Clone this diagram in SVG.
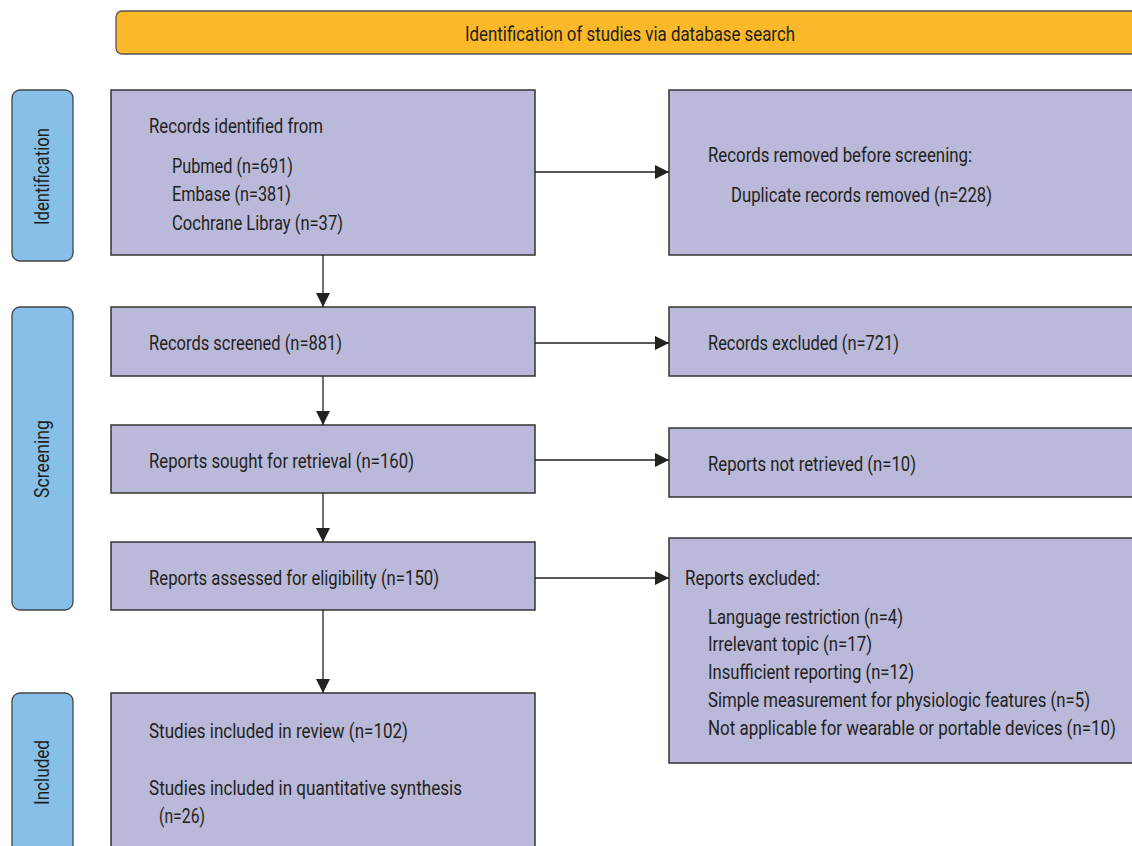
<svg xmlns="http://www.w3.org/2000/svg" width="1132" height="846" viewBox="0 0 1132 846">
<style>
.box{fill:#BAB9DA;stroke:#333;stroke-width:1.5}
.side{fill:#86BFE8;stroke:#444;stroke-width:1.3}
.hdr{fill:#FBB829;stroke:#555;stroke-width:1.3}
.t{font-family:Roboto,"Liberation Sans",sans-serif;font-size:19.5px;fill:#231F20}
.c{stroke:#222;stroke-width:1.3;fill:none}
</style>
<defs>
<marker id="ah" viewBox="0 0 10 10" refX="10" refY="5" markerWidth="14" markerHeight="14" markerUnits="userSpaceOnUse" orient="auto">
<path d="M0,0 L10,5 L0,10 z" fill="#222"/>
</marker>
</defs>
<g id="header">
<rect class="hdr" x="116" y="11" width="1030" height="43" rx="6"/>
<text class="t" x="465" y="41" textLength="330" lengthAdjust="spacingAndGlyphs">Identification of studies via database search</text>
</g>
<g id="side-identification">
<rect class="side" x="12" y="90" width="61" height="171" rx="8"/>
<text class="t" transform="translate(49,225) rotate(-90)" textLength="97" lengthAdjust="spacingAndGlyphs">Identification</text>
</g>
<g id="side-screening">
<rect class="side" x="12" y="307" width="61" height="303" rx="8"/>
<text class="t" transform="translate(49,498) rotate(-90)" textLength="78" lengthAdjust="spacingAndGlyphs">Screening</text>
</g>
<g id="side-included">
<rect class="side" x="12" y="693" width="61" height="170" rx="8"/>
<text class="t" transform="translate(49,805) rotate(-90)" textLength="65" lengthAdjust="spacingAndGlyphs">Included</text>
</g>
<g id="identified">
<rect class="box" x="111" y="90" width="424" height="165"/>
<text class="t" x="149" y="133" textLength="174" lengthAdjust="spacingAndGlyphs">Records identified from</text>
<text class="t" x="172" y="173" textLength="121" lengthAdjust="spacingAndGlyphs">Pubmed (n=691)</text>
<text class="t" x="172" y="201" textLength="119" lengthAdjust="spacingAndGlyphs">Embase (n=381)</text>
<text class="t" x="172" y="230" textLength="171" lengthAdjust="spacingAndGlyphs">Cochrane Libray (n=37)</text>
</g>
<g id="removed">
<rect class="box" x="669" y="90" width="480" height="165"/>
<text class="t" x="708" y="162" textLength="264" lengthAdjust="spacingAndGlyphs">Records removed before screening:</text>
<text class="t" x="731" y="202" textLength="261" lengthAdjust="spacingAndGlyphs">Duplicate records removed (n=228)</text>
</g>
<g id="screened">
<rect class="box" x="111" y="307" width="424" height="69"/>
<text class="t" x="149" y="350" textLength="193" lengthAdjust="spacingAndGlyphs">Records screened (n=881)</text>
</g>
<g id="excluded">
<rect class="box" x="669" y="307" width="480" height="69"/>
<text class="t" x="708" y="350" textLength="191" lengthAdjust="spacingAndGlyphs">Records excluded (n=721)</text>
</g>
<g id="sought">
<rect class="box" x="111" y="425" width="424" height="68"/>
<text class="t" x="149" y="468" textLength="265" lengthAdjust="spacingAndGlyphs">Reports sought for retrieval (n=160)</text>
</g>
<g id="not-retrieved">
<rect class="box" x="669" y="428" width="480" height="69"/>
<text class="t" x="708" y="471" textLength="208" lengthAdjust="spacingAndGlyphs">Reports not retrieved (n=10)</text>
</g>
<g id="assessed">
<rect class="box" x="111" y="542" width="424" height="68"/>
<text class="t" x="149" y="585" textLength="290" lengthAdjust="spacingAndGlyphs">Reports assessed for eligibility (n=150)</text>
</g>
<g id="reports-excluded">
<rect class="box" x="669" y="538" width="480" height="225"/>
<text class="t" x="685" y="585" textLength="135" lengthAdjust="spacingAndGlyphs">Reports excluded:</text>
<text class="t" x="708" y="624" textLength="195" lengthAdjust="spacingAndGlyphs">Language restriction (n=4)</text>
<text class="t" x="708" y="651" textLength="164" lengthAdjust="spacingAndGlyphs">Irrelevant topic (n=17)</text>
<text class="t" x="708" y="679" textLength="206" lengthAdjust="spacingAndGlyphs">Insufficient reporting (n=12)</text>
<text class="t" x="708" y="707" textLength="382" lengthAdjust="spacingAndGlyphs">Simple measurement for physiologic features (n=5)</text>
<text class="t" x="708" y="735" textLength="408" lengthAdjust="spacingAndGlyphs">Not applicable for wearable or portable devices (n=10)</text>
</g>
<g id="included">
<rect class="box" x="111" y="693" width="424" height="170"/>
<text class="t" x="149" y="738" textLength="259" lengthAdjust="spacingAndGlyphs">Studies included in review (n=102)</text>
<text class="t" x="149" y="795" textLength="313" lengthAdjust="spacingAndGlyphs">Studies included in quantitative synthesis</text>
<text class="t" x="159" y="823" textLength="46" lengthAdjust="spacingAndGlyphs">(n=26)</text>
</g>
<g id="connectors">
<line class="c" x1="535" y1="172" x2="669" y2="172" marker-end="url(#ah)"/>
<line class="c" x1="535" y1="343" x2="669" y2="343" marker-end="url(#ah)"/>
<line class="c" x1="535" y1="460" x2="669" y2="460" marker-end="url(#ah)"/>
<line class="c" x1="535" y1="578" x2="669" y2="578" marker-end="url(#ah)"/>
<line class="c" x1="323" y1="255" x2="323" y2="307" marker-end="url(#ah)"/>
<line class="c" x1="323" y1="376" x2="323" y2="425" marker-end="url(#ah)"/>
<line class="c" x1="323" y1="493" x2="323" y2="542" marker-end="url(#ah)"/>
<line class="c" x1="323" y1="610" x2="323" y2="693" marker-end="url(#ah)"/>
</g>
</svg>
